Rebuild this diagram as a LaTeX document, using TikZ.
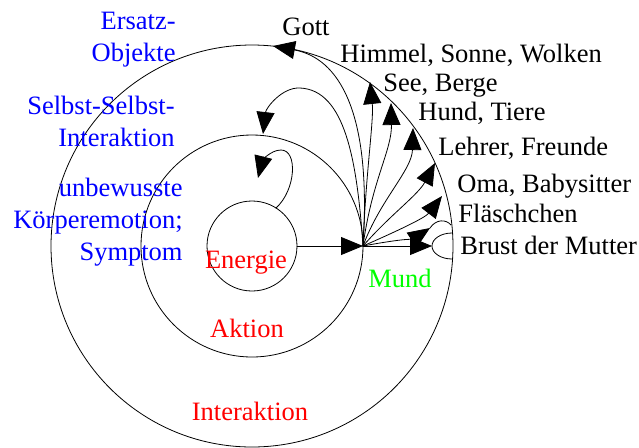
\documentclass[tikz,border=0pt]{standalone}
\usepackage{fontspec}
\setmainfont{Liberation Serif}
\usepackage{xcolor}
\usetikzlibrary{arrows.meta}

\begin{document}
\begin{tikzpicture}[x=0.5pt, y=-0.5pt, line cap=round, line join=round,
  pfeil/.style={-{Triangle[length=11pt,width=9pt]}},
  every node/.style={inner sep=0pt, font=\fontsize{13.25}{16}\selectfont},
  ziel/.style={anchor=base west, black},
  ebene/.style={anchor=base, red},
  bereich/.style={anchor=north east, align=right, blue}]

\useasboundingbox (0,0) rectangle (639,447);

\def\cx{252}
\def\cy{246}

\coordinate (zentrum) at (\cx,\cy);
\draw (zentrum) circle (45);
\draw (zentrum) circle (111);
\draw (zentrum) circle (201);

\coordinate (mundpkt) at (363,246);
\coordinate (kernrand) at (297,246);
\coordinate (kernoben) at (276,208);

\coordinate (zGott) at (273,46);
\coordinate (zHimmel) at (370,82);
\coordinate (zSee) at (391,103);
\coordinate (zHund) at (413,128);
\coordinate (zLehrer) at (435,163);
\coordinate (zOma) at (442,196);
\coordinate (zFlasche) at (430,228);
\coordinate (zBrust) at (432,246);
\coordinate (zSelbst) at (263,134);
\coordinate (zKoerper) at (258,178);

\draw[pfeil] (kernrand) -- (mundpkt);

\draw[pfeil] (mundpkt) .. controls (372,110) and (338,58) .. (zGott);
\draw[pfeil] (mundpkt) .. controls (366,170) and (374,120) .. (zHimmel);
\draw[pfeil] (mundpkt) .. controls (372,180) and (392,150) .. (zSee);
\draw[pfeil] (mundpkt) .. controls (380,200) and (412,170) .. (zHund);
\draw[pfeil] (mundpkt) .. controls (390,215) and (418,195) .. (zLehrer);
\draw[pfeil] (mundpkt) .. controls (395,232) and (425,218) .. (zOma);
\draw[pfeil] (mundpkt) .. controls (395,240) and (415,238) .. (zFlasche);
\draw[pfeil] (mundpkt) -- (zBrust);

\draw[pfeil] (mundpkt) .. controls (357,160) and (345,90) .. (300,88)
  .. controls (282,87) and (266,108) .. (zSelbst);
\draw[pfeil] (kernoben) .. controls (296,190) and (298,150) .. (281,150)
  .. controls (270,150) and (262,162) .. (zKoerper);

\draw (zFlasche) .. controls (436,219) and (446,219) .. (451,225);
\draw (452,233) arc[start angle=270, end angle=90, x radius=20, y radius=13];

\node[ziel] (gott) at (282,35) {Gott};
\node[ziel] (himmel) at (340,62) {Himmel, Sonne, Wolken};
\node[ziel] (see) at (383,91) {See, Berge};
\node[ziel] (hund) at (418,120) {Hund, Tiere};
\node[ziel] (lehrer) at (438,155) {Lehrer, Freunde};
\node[ziel] (oma) at (457,192) {Oma, Babysitter};
\node[ziel] (flasche) at (458,222) {Fläschchen};
\node[ziel] (brust) at (460,254) {Brust der Mutter};

\node[bereich] (ersatz) at (176,12) {Ersatz-\\Objekte};
\node[bereich] (selbst) at (175,96) {Selbst-Selbst-\\Interaktion};
\node[bereich] (koerper) at (183,178) {unbewusste\\Körperemotion;\\Symptom};

\node[ebene] (energie) at (246,268) {Energie};
\node[ebene] (aktion) at (247,337) {Aktion};
\node[ebene] (interaktion) at (250,420) {Interaktion};
\node[ebene, green] (mund) at (400,287) {Mund};

\end{tikzpicture}
\end{document}
